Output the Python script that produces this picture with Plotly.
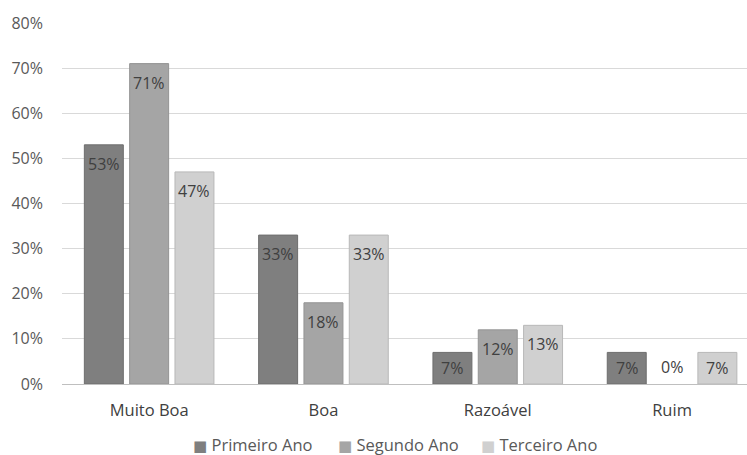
import plotly.graph_objects as go

categories = ["Muito Boa", "Boa", "Razoável", "Ruim"]
series_names = ["Primeiro Ano", "Segundo Ano", "Terceiro Ano"]
primeiro = [53, 33, 7, 7]
segundo = [71, 18, 12, 0]
terceiro = [47, 33, 13, 7]
y_ticks = [0, 10, 20, 30, 40, 50, 60, 70, 80]

fills = ["#7f7f7f", "#a5a5a5", "#d0d0d0"]
lines = ["#6e6e6e", "#949494", "#b8b8b8"]
FONT = "'Open Sans', 'Segoe UI', sans-serif"

BARGAP = 0.22
PX_PER_UNIT = 361 / 80.0  # plot height px per y unit (for label offsets)

fig = go.Figure()
annotations = []
all_series = [primeiro, segundo, terceiro]
slot = (1 - BARGAP) / len(all_series)
for i, (name, vals, fc, lc) in enumerate(zip(series_names, all_series, fills, lines)):
    fig.add_trace(go.Bar(
        x=categories, y=vals, name=name,
        marker=dict(color=fc, line=dict(color=lc, width=[1 if v > 0 else 0 for v in vals])),
        showlegend=False,
    ))
    for j, v in enumerate(vals):
        if v > 0:
            ys = -min(19, v * PX_PER_UNIT / 2)
        else:
            ys = 17
        annotations.append(dict(
            x=j + (i - 1) * slot, y=v, xref="x", yref="y",
            text=f"{v}%", showarrow=False, yshift=ys,
            font=dict(family=FONT, size=16, color="#404040"),
        ))

# legend (drawn as text entries under the chart)
legend_x_px = [191, 336, 479]
for name, fc, lc, lx in zip(series_names, fills, lines, legend_x_px):
    annotations.append(dict(
        x=(lx - 62) / 685.0, y=(384 - 444) / 361.0, xref="paper", yref="paper",
        xanchor="left", yanchor="middle", showarrow=False,
        text=f"<span style='color:{fc}; font-family:DejaVu Sans; font-size:15px'>■</span> {name}",
        font=dict(family=FONT, size=16.5, color="#595959"),
    ))

fig.update_layout(
    width=747, height=455,
    margin=dict(l=62, r=0, t=23, b=71, autoexpand=False),
    paper_bgcolor="white", plot_bgcolor="white",
    barmode="group", bargap=BARGAP, bargroupgap=0.14,
    font=dict(family=FONT, size=16, color="#595959"),
    showlegend=False,
    annotations=annotations,
    xaxis=dict(range=[-0.5, 3.43], showgrid=False, showline=False, ticks="",
               ticklabelstandoff=14,
               tickfont=dict(family=FONT, size=16.5, color="#404040")),
    yaxis=dict(range=[0, 80], tickvals=y_ticks, ticktext=[f"{v}%" for v in y_ticks],
               showgrid=True, gridcolor="#d9d9d9", gridwidth=1,
               zeroline=True, zerolinecolor="#bfbfbf", zerolinewidth=1,
               showline=False, ticks="", ticklabelstandoff=18,
               tickfont=dict(family=FONT, size=16, color="#595959")),
)

fig.write_html("out.html")
